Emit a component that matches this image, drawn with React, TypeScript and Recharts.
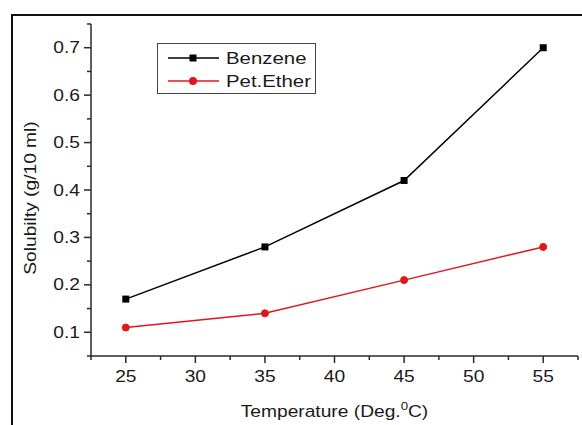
import React from 'react';
import { LineChart, Line, XAxis, YAxis, Legend, Label } from 'recharts';

const temperatures = [25, 35, 45, 55];
const benzene = [0.17, 0.28, 0.42, 0.7];
const petEther = [0.11, 0.14, 0.21, 0.28];

const xTicks = [22.5, 25, 27.5, 30, 32.5, 35, 37.5, 40, 42.5, 45, 47.5, 50, 52.5, 55, 57.5];
const xMajor = [25, 30, 35, 40, 45, 50, 55];
const yTicks = [0.05, 0.1, 0.15, 0.2, 0.25, 0.3, 0.35, 0.4, 0.45, 0.5, 0.55, 0.6, 0.65, 0.7, 0.75];
const yMajor = [0.1, 0.2, 0.3, 0.4, 0.5, 0.6, 0.7];

const seriesNames = ['Benzene', 'Pet.Ether'];
const xTitle = 'Temperature (Deg.';
const yTitle = 'Solubilty (g/10 ml)';

const FONT = "'Liberation Sans', Arial, sans-serif";
const INK = '#1a1a1a';
const AXIS = '#2a2a2a';
const RED = '#e0161b';

const data = temperatures.map((t, i) => ({ t, benzene: benzene[i], petEther: petEther[i] }));

const XTick = (props: any) => {
  const { x, y, payload } = props;
  const v = payload.value;
  const major = xMajor.includes(v);
  return (
    <g>
      <line x1={x} x2={x} y1={y} y2={y + (major ? 7 : 4)} stroke={AXIS} strokeWidth={1.5} />
      {major && (
        <text transform={`translate(${x},${y + 26}) scale(1.2,1)`} textAnchor="middle"
          fontFamily={FONT} fontSize={16} fill={INK}>{v}</text>
      )}
    </g>
  );
};

const YTick = (props: any) => {
  const { x, y, payload } = props;
  const v = payload.value;
  const major = yMajor.some(m => Math.abs(m - v) < 1e-6);
  return (
    <g>
      <line x1={x - (major ? 7 : 4)} x2={x} y1={y} y2={y} stroke={AXIS} strokeWidth={1.5} />
      {major && (
        <text transform={`translate(${x - 11},${y + 5.5}) scale(1.2,1)`} textAnchor="end"
          fontFamily={FONT} fontSize={16} fill={INK}>{v.toFixed(1)}</text>
      )}
    </g>
  );
};

const SquareDot = (p: any) => (
  <rect key={p.index} x={p.cx - 3.5} y={p.cy - 3.5} width={7} height={7} fill="#000" />
);

const LegendBox = () => (
  <svg width={160} height={52} style={{ display: 'block' }}>
    <rect x={0.5} y={0.5} width={158} height={50} fill="#fff" stroke="#444" strokeWidth={1} />
    <line x1={11} x2={62} y1={15} y2={15} stroke="#000" strokeWidth={1.5} />
    <rect x={32.5} y={11.5} width={7} height={7} fill="#000" />
    <text transform="translate(69,21) scale(1.2,1)" fontFamily={FONT} fontSize={17} fill={INK}>{seriesNames[0]}</text>
    <line x1={11} x2={62} y1={38} y2={38} stroke={RED} strokeWidth={1.5} />
    <circle cx={36} cy={38} r={4} fill={RED} />
    <text transform="translate(69,44) scale(1.2,1)" fontFamily={FONT} fontSize={17} fill={INK}>{seriesNames[1]}</text>
  </svg>
);

const XTitle = (props: any) => {
  const { x, y, width } = props.viewBox;
  return (
    <text transform={`translate(${x + width / 2},${y + 61}) scale(1.2,1)`} textAnchor="middle"
      fontFamily={FONT} fontSize={16} fill={INK}>
      {xTitle}
      <tspan fontSize={11} dy={-7}>0</tspan>
      <tspan dy={7}>C)</tspan>
    </text>
  );
};

const YTitle = (props: any) => {
  const { y, height } = props.viewBox;
  return (
    <text transform={`translate(36,${y + height / 2 + 8}) rotate(-90) scale(1.2,1)`} textAnchor="middle"
      fontFamily={FONT} fontSize={16} fill={INK}>{yTitle}</text>
  );
};

export default function App() {
  return (
    <div style={{ position: 'absolute', left: 0, top: 0, width: 582, height: 425, overflow: 'hidden', background: '#fff' }}>
      <div style={{ position: 'absolute', left: 11, top: 14, width: 600, height: 450, borderLeft: '2px solid #111', borderTop: '2px solid #111' }} />
      <div style={{ position: 'absolute', left: 0, top: 0 }}>
        <LineChart width={582} height={425} data={data} margin={{ top: 24, right: 4, bottom: 0, left: 0 }}>
          <XAxis dataKey="t" type="number" domain={[22.5, 57.5]} ticks={xTicks} interval={0}
            tickSize={0} tickMargin={0} tickLine={false} tick={<XTick />} height={69}
            axisLine={{ stroke: AXIS, strokeWidth: 1.5 }} allowDataOverflow>
            <Label content={<XTitle />} />
          </XAxis>
          <YAxis type="number" domain={[0.05, 0.75]} ticks={yTicks} interval={0}
            tickSize={0} tickMargin={0} tickLine={false} tick={<YTick />} width={91}
            axisLine={{ stroke: AXIS, strokeWidth: 1.5 }} allowDataOverflow>
            <Label content={<YTitle />} />
          </YAxis>
          <Legend layout="horizontal" verticalAlign="middle" align="center" content={<LegendBox />}
            wrapperStyle={{ left: 157, top: 43, width: 160, height: 52 }} />
          <Line dataKey="benzene" name={seriesNames[0]} stroke="#000" strokeWidth={1.5}
            dot={SquareDot} activeDot={false} isAnimationActive={false} />
          <Line dataKey="petEther" name={seriesNames[1]} stroke={RED} strokeWidth={1.5}
            dot={{ r: 3.5, fill: RED, stroke: RED, strokeWidth: 1 }} activeDot={false} isAnimationActive={false} />
        </LineChart>
      </div>
    </div>
  );
}
